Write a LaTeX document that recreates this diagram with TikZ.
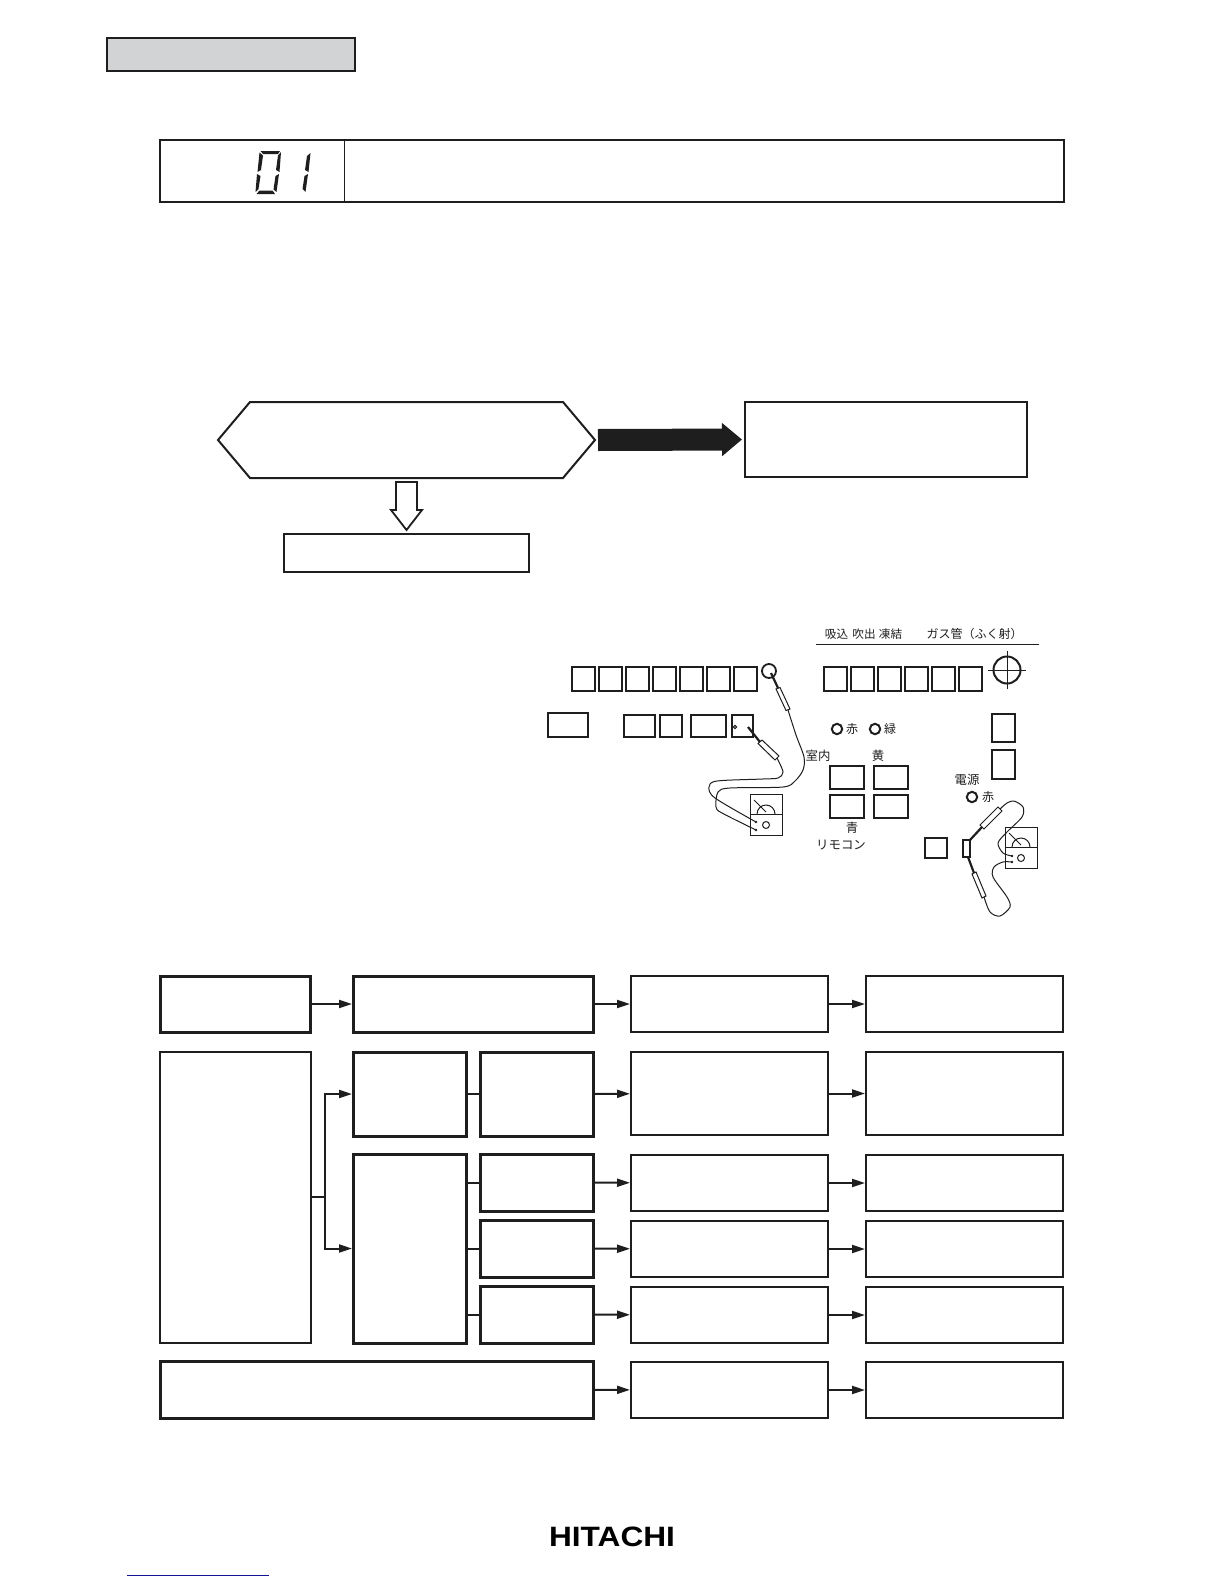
\documentclass[tikz,border=0pt]{standalone}
\usepackage{fontspec}
\usetikzlibrary{arrows.meta}
\newfontfamily\cjk{Noto Sans CJK JP}
\newfontfamily\logofont{Liberation Sans}[BoldFont={Liberation Sans Bold}]
\definecolor{barGray}{RGB}{209,211,212}
\definecolor{linkBlue}{RGB}{20,20,150}
\definecolor{inkBlack}{RGB}{30,30,30}
\newcommand{\tikzScale}{1.0}
% a rectangle node given by its corners, in pixels of the page
\newcommand{\blockAt}[6]{\node[#2, minimum width={(#5-#3)*0.5pt}, minimum height={(#6-#4)*0.5pt}] (#1) at ({(#3+#5)/2},{(#4+#6)/2}) {};}
\newcommand{\labelAt}[4]{\node[cjkLabel, font=\cjk\fontsize{#1}{#1}\selectfont] (#2) at (#3) {#4};}
\newcommand{\meterAt}[2]{
   \begin{scope}[shift={(#1,#2)}]
      \draw[thinWire] (0,0) rectangle (32,41);
      \draw[thinWire] (0,20) -- (32,20);
      \draw[thinWire] (25,20) arc (0:-180:9);
      \draw[thinWire] (4,6) -- (16,18);
      \draw[thinWire] (16,31) circle (3.5);
   \end{scope}
}
\tikzset{
   thickBlock/.style={draw=inkBlack, line width=1.5pt, inner sep=0pt, rectangle},
   thinBlock/.style={draw=inkBlack, line width=1pt, inner sep=0pt, rectangle},
   keyBlock/.style={draw=inkBlack, line width=1pt, inner sep=0pt, rectangle},
   flowArrow/.style={draw=inkBlack, line width=1pt, -{Triangle[length=6.5pt,width=4pt]}},
   flowLine/.style={draw=inkBlack, line width=1pt},
   lampRing/.style={circle, draw=inkBlack, line width=1pt, minimum size=5.2pt, inner sep=0pt},
   cjkLabel/.style={inner sep=0pt, text=inkBlack},
   thinWire/.style={draw=inkBlack, line width=0.5pt},
   probeTip/.style={draw=inkBlack, line width=1.1pt},
}
\begin{document}
\begin{tikzpicture}[scale=\tikzScale, x=0.5pt, y=-0.5pt]
   \useasboundingbox (0,0) rectangle (1224,1584);

   % header and code bar
   \node[draw=inkBlack, fill=barGray, line width=1.2pt, inner sep=0pt, minimum width=124pt, minimum height=16.5pt] (titleBar) at (231,54.5) {};
   \blockAt{codeBox}{thickBlock, line width=1.2pt}{160}{140}{1064}{202}
   \coordinate (codeTop) at (344,140);
   \coordinate (codeBottom) at (344,202);
   \draw[thinWire] (codeTop) -- (codeBottom);

   % seven segment digits
   \fill[inkBlack] (260.5,151) -- (280,151) -- (278,154) -- (263,154) -- cycle;
   \fill[inkBlack] (259.5,152.5) -- (263,155.5) -- (261,170) -- (257.5,172) -- cycle;
   \fill[inkBlack] (281,152) -- (278,155.5) -- (276,170) -- (279.5,172) -- cycle;
   \fill[inkBlack] (257,174) -- (260.5,176) -- (258.5,189) -- (255.5,192) -- cycle;
   \fill[inkBlack] (279,174) -- (275.5,176) -- (273.5,189.5) -- (276.5,192) -- cycle;
   \fill[inkBlack] (256.5,194) -- (259.5,190.5) -- (272.5,190.5) -- (275,194) -- cycle;
   \fill[inkBlack] (310.5,153) -- (307,156) -- (305,170) -- (308.5,172) -- cycle;
   \fill[inkBlack] (308,174) -- (304.5,176) -- (302.5,189) -- (305.5,192) -- cycle;

   % decision
   \coordinate (hexWest) at (218,440);
   \coordinate (hexEast) at (595,440);
   \coordinate (fatStart) at (598,440);
   \draw[draw=inkBlack, line width=1pt] (hexWest) -- (250,402) -- (563,402) -- (hexEast) -- (563,478) -- (250,478) -- cycle;
   \blockAt{yesBox}{thinBlock}{745}{402}{1027}{477}
   \blockAt{noBox}{thinBlock}{284}{534}{529}{572}
   \draw[inkBlack, line width=11pt, -{Triangle[length=10pt,width=16pt]}, shorten >=1pt] (fatStart) -- (yesBox.west);
   \draw[draw=inkBlack, line width=0.9pt, fill=white] (396,482) -- (417,482) -- (417,510) -- (422,510) -- (406.5,530) -- (391,510) -- (396,510) -- cycle;

   % indoor panel
   \foreach \x [count=\i] in {572,599,626,653,680,707,734}
   {
      \blockAt{keyA\i}{keyBlock}{\x}{667}{\x+23}{691}
   }
   \foreach \x [count=\i] in {824,851,878,905,932,959}
   {
      \blockAt{keyB\i}{keyBlock}{\x}{667}{\x+23}{691}
   }
   \blockAt{termA}{keyBlock}{548}{713}{588}{737}
   \blockAt{termB}{keyBlock}{624}{715}{655}{737}
   \blockAt{termC}{keyBlock}{660}{715}{682}{737}
   \blockAt{termD}{keyBlock}{691}{715}{726}{737}
   \blockAt{termE}{keyBlock}{732}{715}{753}{737}
   \node[circle, draw=inkBlack, line width=0.5pt, minimum size=1.6pt, inner sep=0pt] (termDot) at (735,727) {};
   \node[circle, draw=inkBlack, line width=0.9pt, minimum size=7pt, inner sep=0pt] (testRing) at (769,671) {};

   \meterAt{750}{794}
   \draw[probeTip] (771,673) -- (778,688);
   \draw[thinWire] (776,689) -- (780,687.5) -- (790,709) -- (786,710.5) -- cycle;
   \draw[thinWire] plot[smooth, tension=0.5] coordinates {(788,710) (796,735) (804,757) (803,770) (795,781) (783,787) (730,788) (718,792) (716,807) (722,813) (756,830)};
   \draw[probeTip] (748,727) -- (760,742);
   \draw[thinWire] (758,743.5) -- (762,740) -- (779,756) -- (775,760) -- cycle;
   \draw[thinWire] plot[smooth, tension=0.5] coordinates {(777,758) (783,772) (778,778) (763,779) (717,781) (709,787) (715,798) (756,822)};
   \fill[inkBlack] (756,822) circle (1.3);
   \fill[inkBlack] (756,830) circle (1.3);

   % outdoor panel
   \labelAt{5.8}{hdrSuction}{836.5,634}{吸込}
   \labelAt{5.8}{hdrDischarge}{864,634}{吹出}
   \labelAt{5.8}{hdrFreeze}{890.5,634}{凍結}
   \labelAt{6}{hdrGas}{974.5,634}{ガス管（ふく射）}
   \coordinate (hdrWest) at (816,644);
   \coordinate (hdrEast) at (1039,644);
   \draw[inkBlack, line width=0.5pt] (hdrWest) -- (hdrEast);
   \node[circle, draw=inkBlack, line width=1pt, minimum size=13.5pt, inner sep=0pt] (sensorRing) at (1007,670) {};
   \draw[thinWire] (988,670) -- (1026,670);
   \draw[thinWire] (1007,651) -- (1007,689);

   \blockAt{sideA}{keyBlock}{992}{714}{1015}{742}
   \blockAt{sideB}{keyBlock}{992}{750}{1015}{779}
   \blockAt{padA}{keyBlock}{830}{766}{864}{789}
   \blockAt{padB}{keyBlock}{874}{766}{908}{789}
   \blockAt{padC}{keyBlock}{830}{795}{864}{818}
   \blockAt{padD}{keyBlock}{874}{795}{908}{818}
   \blockAt{powerA}{keyBlock}{925}{838}{947}{858}
   \blockAt{powerB}{keyBlock}{963}{840}{970}{857}

   \node[lampRing] (lampRed) at (837,729) {};
   \node[lampRing] (lampGreen) at (875,729) {};
   \node[lampRing] (lampPower) at (972,797) {};
   \labelAt{6}{txtRed}{852,729}{赤}
   \labelAt{6}{txtGreen}{890,729}{緑}
   \labelAt{6}{txtPowerRed}{988,797}{赤}
   \labelAt{6.2}{txtIndoor}{818,756}{室内}
   \labelAt{6.2}{txtYellow}{878,756}{黄}
   \labelAt{6.2}{txtBlue}{852,828}{青}
   \labelAt{6.2}{txtRemote}{841,845}{リモコン}
   \labelAt{6.2}{txtPower}{967,780}{電源}

   \meterAt{1005}{827}
   \draw[probeTip] (970,840) -- (982,827);
   \draw[thinWire] (980,825) -- (998,807) -- (1002,811) -- (984,829) -- cycle;
   \draw[thinWire] plot[smooth, tension=0.5] coordinates {(1000,809) (1007,803) (1014,801) (1023,807) (1022,817) (1007,832) (998,843) (1003,853) (1012,856)};
   \draw[probeTip] (968,857) -- (974,873);
   \draw[thinWire] (972,874) -- (976,872) -- (986,896) -- (982,898) -- cycle;
   \draw[thinWire] plot[smooth, tension=0.5] coordinates {(984,897) (990,912) (1000,916) (1010,907) (1007,897) (993,877) (994,867) (1003,862) (1012,862)};
   \fill[inkBlack] (1012,856) circle (1.3);
   \fill[inkBlack] (1012,862) circle (1.3);

   % flow table
   \blockAt{startBox}{thickBlock}{160.5}{976}{310}{1032}
   \blockAt{checkBox}{thickBlock}{353.5}{976}{593}{1032}
   \blockAt{causeBox}{thinBlock}{631}{976}{828}{1032}
   \blockAt{fixBox}{thinBlock}{866}{976}{1063}{1032}

   \blockAt{leftBox}{thinBlock, line width=1.2pt}{160}{1052}{311}{1343}
   \blockAt{midBox}{thickBlock}{353.5}{1052}{466}{1136}
   \blockAt{lowBox}{thickBlock}{353.5}{1154}{466}{1343}
   \blockAt{stepA}{thickBlock}{480.5}{1052}{593}{1136}
   \blockAt{stepB}{thickBlock}{480.5}{1154}{593}{1211}
   \blockAt{stepC}{thickBlock}{480.5}{1220}{593}{1277}
   \blockAt{stepD}{thickBlock}{480.5}{1286}{593}{1343}

   \blockAt{causeA}{thinBlock}{631}{1052}{828}{1135}
   \blockAt{causeB}{thinBlock}{631}{1155}{828}{1211}
   \blockAt{causeC}{thinBlock}{631}{1221}{828}{1277}
   \blockAt{causeD}{thinBlock}{631}{1287}{828}{1343}
   \blockAt{fixA}{thinBlock}{866}{1052}{1063}{1135}
   \blockAt{fixB}{thinBlock}{866}{1155}{1063}{1211}
   \blockAt{fixC}{thinBlock}{866}{1221}{1063}{1277}
   \blockAt{fixD}{thinBlock}{866}{1287}{1063}{1343}

   \blockAt{wideBox}{thickBlock}{160.5}{1361}{593}{1418}
   \blockAt{causeE}{thinBlock}{631}{1362}{828}{1418}
   \blockAt{fixE}{thinBlock}{866}{1362}{1063}{1418}

   \draw[flowArrow] (startBox) -- (checkBox);
   \draw[flowArrow] (checkBox) -- (causeBox);
   \draw[flowArrow] (causeBox) -- (fixBox);
   \coordinate (branch) at (325,1197);
   \draw[flowLine] (leftBox.east |- branch) -- (branch);
   \draw[flowArrow] (branch) |- (midBox.west);
   \draw[flowArrow] (branch) |- (lowBox.west);
   \draw[flowLine] (midBox) -- (stepA);
   \foreach \n in {B,C,D}
   {
      \draw[flowLine] (lowBox.east |- step\n.west) -- (step\n.west);
   }
   \foreach \n in {A,B,C,D}
   {
      \draw[flowArrow] (step\n) -- (cause\n);
      \draw[flowArrow] (cause\n) -- (fix\n);
   }
   \draw[flowArrow] (wideBox) -- (causeE);
   \draw[flowArrow] (causeE) -- (fixE);

   % footer
   \node[inner sep=0pt, xscale=1.13, text=black] (logo) at (612,1536.5) {\logofont\bfseries\fontsize{14}{14}\selectfont HITACHI};
   \coordinate (linkWest) at (127,1575);
   \coordinate (linkEast) at (269,1575);
   \draw[linkBlue, line width=0.5pt] (linkWest) -- (linkEast);
\end{tikzpicture}
\end{document}
